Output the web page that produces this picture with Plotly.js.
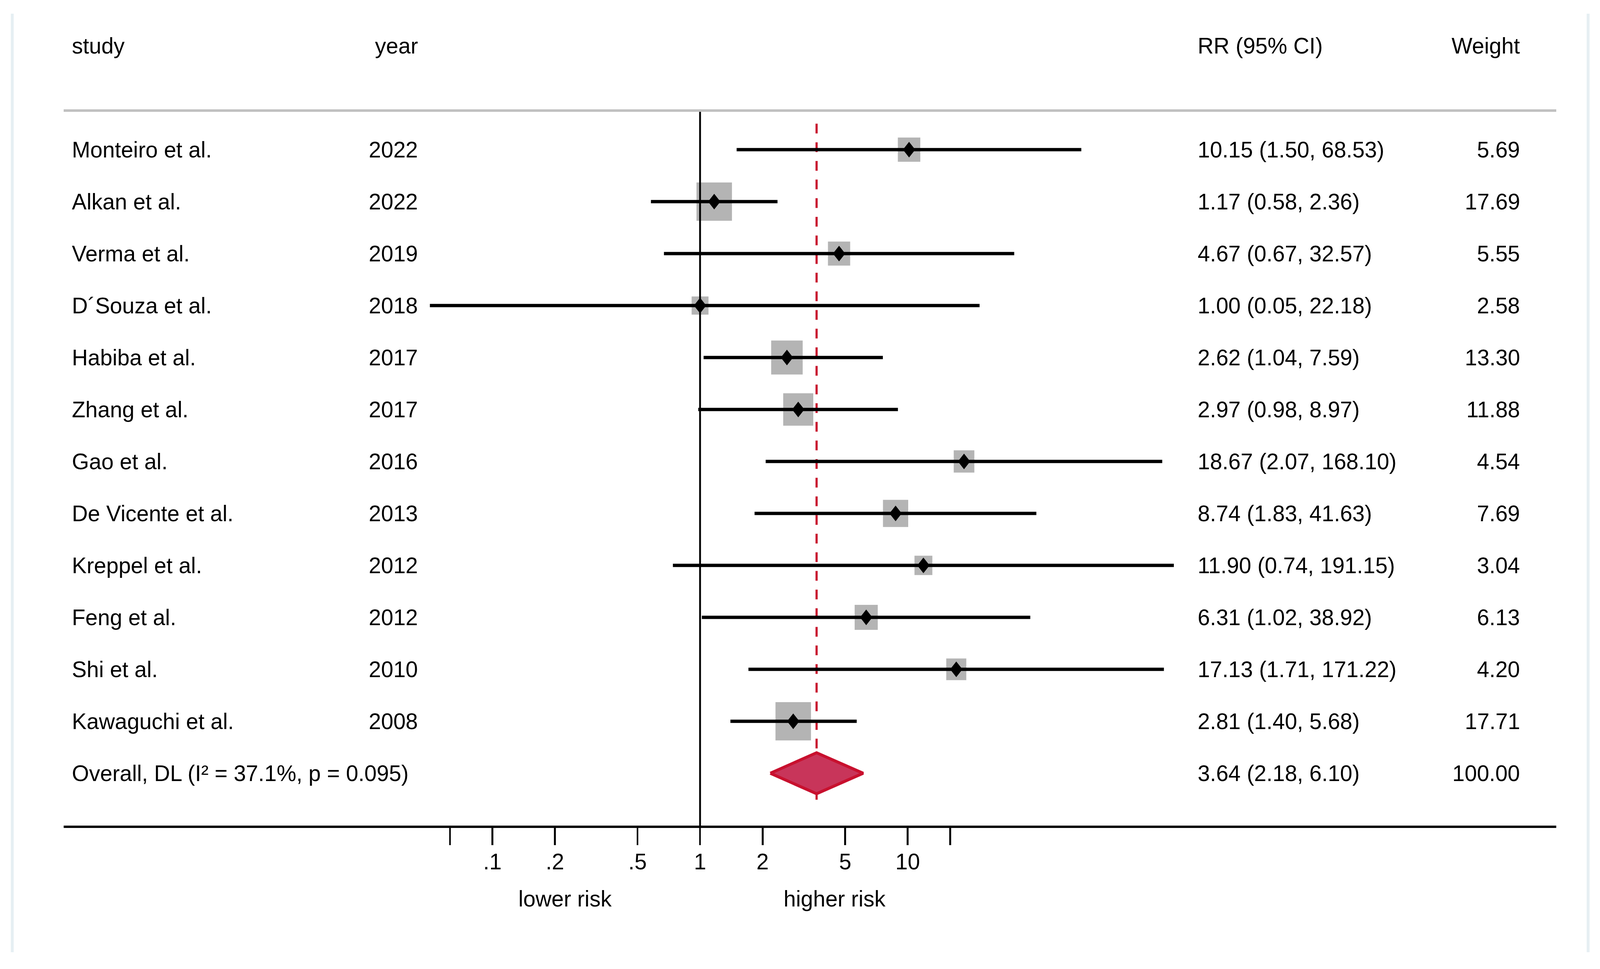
<!DOCTYPE html>
<html><head><meta charset="utf-8">
<script src="https://cdn.plot.ly/plotly-3.0.1.min.js"></script>
<style>html,body{margin:0;padding:0;background:#fff;overflow:hidden;}</style>
</head><body>
<div id="chart"></div>
<script>
// ---- data ----
const studies = ["Monteiro et al.", "Alkan et al.", "Verma et al.", "D\u00b4Souza et al.", "Habiba et al.", "Zhang et al.", "Gao et al.", "De Vicente et al.", "Kreppel et al.", "Feng et al.", "Shi et al.", "Kawaguchi et al."];
const years = [2022, 2022, 2019, 2018, 2017, 2017, 2016, 2013, 2012, 2012, 2010, 2008];
const rr = [10.15, 1.17, 4.67, 1.00, 2.62, 2.97, 18.67, 8.74, 11.90, 6.31, 17.13, 2.81];
const ciLower = [1.50, 0.58, 0.67, 0.05, 1.04, 0.98, 2.07, 1.83, 0.74, 1.02, 1.71, 1.40];
const ciUpper = [68.53, 2.36, 32.57, 22.18, 7.59, 8.97, 168.10, 41.63, 191.15, 38.92, 171.22, 5.68];
const weights = [5.69, 17.69, 5.55, 2.58, 13.30, 11.88, 4.54, 7.69, 3.04, 6.13, 4.20, 17.71];
const overallLabel = "Overall, DL (I\u00b2 = 37.1%, p = 0.095)";
const overallRR = 3.64;
const overallLower = 2.18;
const overallUpper = 6.10;
const overallWeight = 100.00;
const headers = ["study", "year", "RR (95% CI)", "Weight"];
const tickVals = [0.0625, 0.1, 0.2, 0.5, 1, 2, 5, 10, 16];
const tickText = ["", ".1", ".2", ".5", "1", "2", "5", "10", ""];
const sideLabels = ["lower risk", "higher risk"];

// ---- sizing (design frame 4419 x 2480, scaled to the actual viewport) ----
const W = window.innerWidth || 4419, H = window.innerHeight || 2480;
const sx = W / 4419, sy = H / 2480, s = Math.min(sx, sy);
const el = document.getElementById("chart");
el.style.width = W + "px"; el.style.height = H + "px";

const FONT = "Liberation Sans, Arial, Helvetica, sans-serif";
const FS = 61 * s;
const rows = studies.map((_, i) => i);
const overallRow = studies.length;
const CRIMSON = "#c8102e";
const DEC = 573.5;   // design px per decade on the x axis
const ROW = 133;     // design px per row

// box polygons (area grows with weight)
const boxX = [], boxY = [];
rows.forEach(i => {
  const side = 14.85 + 19.77 * Math.sqrt(weights[i]);
  const hx = Math.pow(10, side / 2 / DEC), hy = side / 2 / ROW;
  boxX.push(rr[i] / hx, rr[i] * hx, rr[i] * hx, rr[i] / hx, rr[i] / hx, null);
  boxY.push(i - hy, i - hy, i + hy, i + hy, i - hy, null);
});
// point-estimate diamonds
const dmX = [], dmY = [];
rows.forEach(i => {
  const hx = Math.pow(10, 17 / DEC), hy = 20 / ROW;
  dmX.push(rr[i] / hx, rr[i], rr[i] * hx, rr[i], rr[i] / hx, null);
  dmY.push(i, i - hy, i, i + hy, i, null);
});
// CI segments
const ciX = [], ciY = [];
rows.forEach(i => { ciX.push(ciLower[i], ciUpper[i], null); ciY.push(i, i, null); });

const dh = 52.5 / ROW;
const traces = [
  { type: "scatter", mode: "none", fill: "toself", x: boxX, y: boxY, fillcolor: "#b4b4b4", hoverinfo: "skip" },
  { type: "scatter", mode: "lines", x: [overallRR, overallRR], y: [-0.50, 12.51], hoverinfo: "skip",
    line: { color: CRIMSON, width: 6 * s, dash: (25 * sy) + "px," + (22.7 * sy) + "px" } },
  { type: "scatter", mode: "lines", x: [1, 1], y: [-0.752, 13.05], hoverinfo: "skip",
    line: { color: "#000", width: 5 * s } },
  { type: "scatter", mode: "lines", x: ciX, y: ciY, hoverinfo: "skip",
    line: { color: "#000", width: 9 * s } },
  { type: "scatter", mode: "none", fill: "toself", x: dmX, y: dmY, fillcolor: "#000", hoverinfo: "skip" },
  { type: "scatter", mode: "lines", fill: "toself", hoverinfo: "skip",
    x: [overallLower, overallRR, overallUpper, overallRR, overallLower],
    y: [overallRow, overallRow - dh, overallRow, overallRow + dh, overallRow],
    fillcolor: "#c8355a", line: { color: CRIMSON, width: 8 * s } }
];

const pxX = p => (p - 176) / 4122;   // design pixel -> paper x
const pxY = p => (2113 - p) / 2113;  // design pixel -> paper y

const ann = [];
const txt = (text, x, y, xanchor, xref, yref) => ann.push({
  text, x, y, xref: xref || "paper", yref: yref || "y", xanchor, yanchor: "middle",
  showarrow: false, font: { family: FONT, size: FS, color: "#000" }
});
txt(headers[0], pxX(197), -2, "left");
txt(headers[1], pxX(1157), -2, "right");
txt(headers[2], pxX(3305), -2, "left");
txt(headers[3], pxX(4200), -2, "right");
rows.forEach(i => {
  txt(studies[i], pxX(197), i, "left");
  txt(String(years[i]), pxX(1157), i, "right");
  txt(`${rr[i].toFixed(2)} (${ciLower[i].toFixed(2)}, ${ciUpper[i].toFixed(2)})`, pxX(3305), i, "left");
  txt(weights[i].toFixed(2), pxX(4200), i, "right");
});
txt(overallLabel, pxX(197), overallRow, "left");
txt(`${overallRR.toFixed(2)} (${overallLower.toFixed(2)}, ${overallUpper.toFixed(2)})`, pxX(3305), overallRow, "left");
txt(overallWeight.toFixed(2), pxX(4200), overallRow, "right");
txt(sideLabels[0], pxX(1561), pxY(2300), "center", "paper", "paper");
txt(sideLabels[1], pxX(2305), pxY(2300), "center", "paper", "paper");

const shapes = [
  { type: "line", xref: "paper", yref: "y", x0: 0, x1: 1, y0: -0.752, y1: -0.752, line: { color: "#c0c0c0", width: 7 * s } },
  { type: "line", xref: "paper", yref: "paper", x0: pxX(34), x1: pxX(34), y0: pxY(35), y1: pxY(2437), line: { color: "#e6eff3", width: 8 * s } },
  { type: "line", xref: "paper", yref: "paper", x0: pxX(4386), x1: pxX(4386), y0: pxY(35), y1: pxY(2437), line: { color: "#e6eff3", width: 8 * s } }
];

const layout = {
  width: W, height: H,
  margin: { l: 176 * sx, r: 121 * sx, t: 0, b: 367 * sy, pad: 0 },
  paper_bgcolor: "#fff", plot_bgcolor: "#fff",
  showlegend: false,
  font: { family: FONT, size: FS, color: "#000" },
  xaxis: {
    type: "log", range: [-3.0645, 4.1229], fixedrange: true,
    showgrid: false, zeroline: false,
    showline: true, linecolor: "#000", linewidth: 7 * s,
    tickmode: "array", tickvals: tickVals, ticktext: tickText,
    ticks: "outside", ticklen: 44 * sy, tickwidth: 5 * s, tickcolor: "#000",
    ticklabelstandoff: Math.round(-6 * sy),
    tickfont: { family: FONT, size: FS, color: "#000" }
  },
  yaxis: {
    range: [(2113 - 383) / ROW, -383 / ROW], fixedrange: true,
    showgrid: false, zeroline: false, showline: false, showticklabels: false, ticks: ""
  },
  shapes, annotations: ann
};

Plotly.newPlot("chart", traces, layout, { staticPlot: true, displayModeBar: false });
</script>
</body></html>
